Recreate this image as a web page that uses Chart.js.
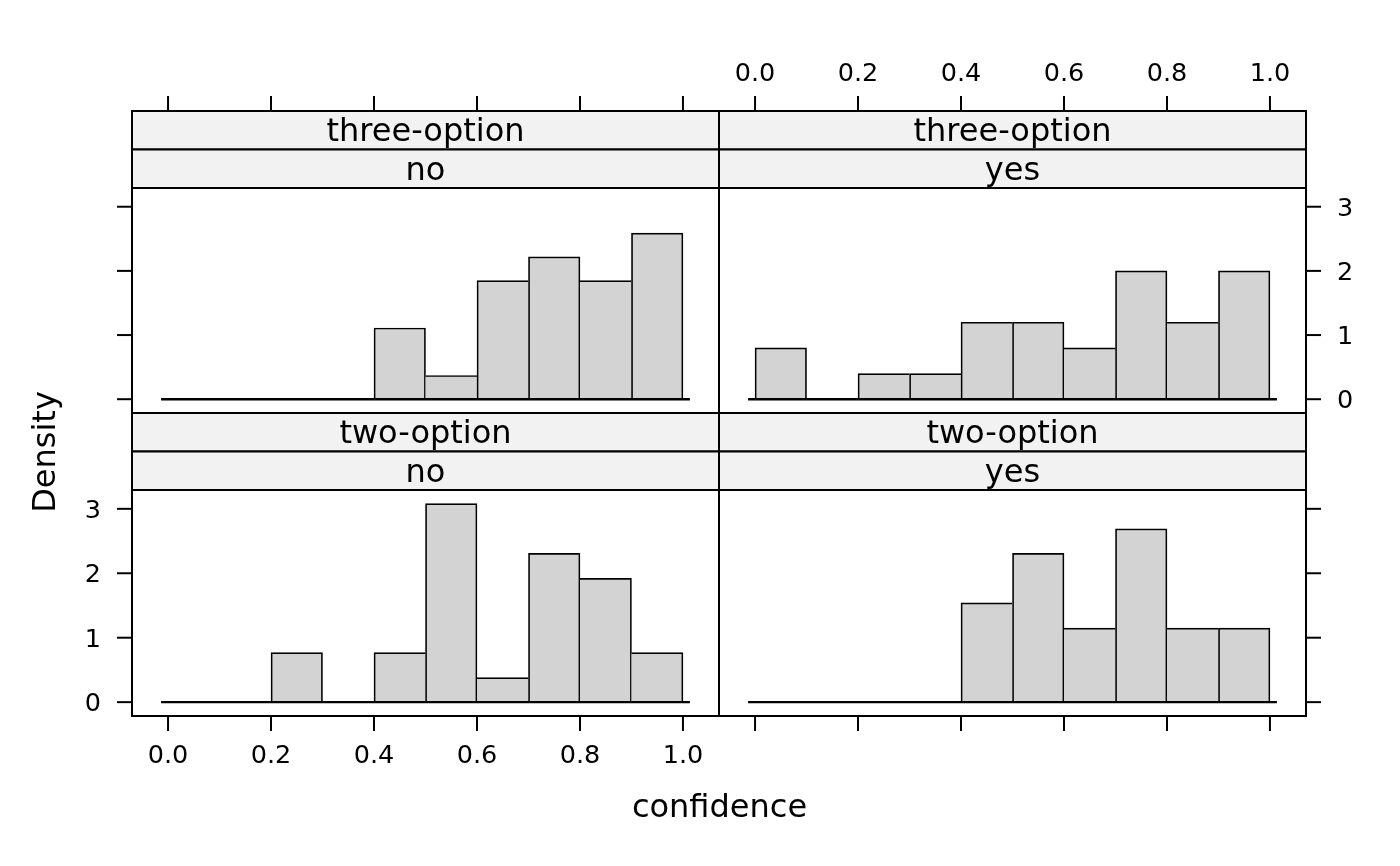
<!DOCTYPE html>
<html>
<head>
<meta charset="utf-8">
<title>confidence histograms</title>
<script src="https://cdn.jsdelivr.net/npm/chart.js@4.4.1/dist/chart.umd.min.js"></script>
<style>
  html, body { margin: 0; background: #fff; }
  #wrap { position: relative; width: 1400px; height: 866px; }
  #wrap canvas { position: absolute; left: 0; top: 0; }
</style>
</head>
<body>
<div id="wrap">
  <canvas id="p0" width="1400" height="866"></canvas>
  <canvas id="p1" width="1400" height="866"></canvas>
  <canvas id="p2" width="1400" height="866"></canvas>
  <canvas id="p3" width="1400" height="866"></canvas>
</div>
<script>
// Histogram bins (centres of the 0.1-wide bins) and densities per panel
const binCenters = [0.05, 0.15, 0.25, 0.35, 0.45, 0.55, 0.65, 0.75, 0.85, 0.95];
const threeOptionNo = [0, 0, 0, 0, 1.11, 0.37, 1.85, 2.22, 1.85, 2.59];
const threeOptionYes = [0.80, 0, 0.40, 0.40, 1.20, 1.20, 0.80, 2.00, 1.20, 2.00];
const twoOptionNo = [0, 0, 0.77, 0, 0.77, 3.08, 0.38, 2.31, 1.92, 0.77];
const twoOptionYes = [0, 0, 0, 0, 1.54, 2.31, 1.15, 2.69, 1.15, 1.15];

// Zero line under the bars
const baselineX = [-0.0135, 1.0135];

// Axis ticks
const xTicks = [0, 0.2, 0.4, 0.6, 0.8, 1.0];
const xTickLabels = ["0.0", "0.2", "0.4", "0.6", "0.8", "1.0"];
const yTicks = [0, 1, 2, 3];
const yTickLabels = ["0", "1", "2", "3"];

const xLabel = "confidence";
const yLabel = "Density";

// Panel geometry (pixels)
const cols = [[132, 719], [719, 1306]];
const rows = [
  { stripTop: 111, plotTop: 188, plotBottom: 413 },
  { stripTop: 413, plotTop: 490, plotBottom: 716 }
];

const panels = [
  { values: threeOptionNo, strips: ["three-option", "no"], col: 0, row: 0,
    xSide: "top", xLab: false, ySide: "left", yLab: false },
  { values: threeOptionYes, strips: ["three-option", "yes"], col: 1, row: 0,
    xSide: "top", xLab: true, ySide: "right", yLab: true },
  { values: twoOptionNo, strips: ["two-option", "no"], col: 0, row: 1,
    xSide: "bottom", xLab: true, ySide: "left", yLab: true, titles: true },
  { values: twoOptionYes, strips: ["two-option", "yes"], col: 1, row: 1,
    xSide: "bottom", xLab: false, ySide: "right", yLab: false }
];

const FONT = '"DejaVu Sans", "Liberation Sans", sans-serif';
const TICK = 15;

// Draws strips, panel box, outside ticks and axis titles
function makeFrame(p) {
  return {
    id: "frame" + p.col + p.row,
    afterDraw(chart) {
      const ctx = chart.ctx;
      const area = chart.chartArea;
      const xs = chart.scales.x;
      const ys = chart.scales.y;
      const r = rows[p.row];
      const stripH = (r.plotTop - r.stripTop) / 2;
      const w = area.right - area.left;

      ctx.save();
      ctx.strokeStyle = "#000";
      ctx.fillStyle = "#000";
      ctx.lineWidth = 2;

      // strips
      ctx.font = "32px " + FONT;
      ctx.textAlign = "center";
      ctx.textBaseline = "alphabetic";
      p.strips.forEach((label, i) => {
        const y0 = r.stripTop + i * stripH;
        ctx.fillStyle = "#f2f2f2";
        ctx.fillRect(area.left, y0, w, stripH);
        ctx.strokeRect(area.left, y0, w, stripH);
        ctx.fillStyle = "#000";
        ctx.fillText(label, (area.left + area.right) / 2, y0 + 30);
      });

      // panel box
      ctx.strokeRect(area.left, r.stripTop, w, r.plotBottom - r.stripTop);

      // x ticks
      ctx.font = "25.5px " + FONT;
      ctx.textAlign = "center";
      xTicks.forEach((v, i) => {
        const px = xs.getPixelForValue(v);
        ctx.beginPath();
        if (p.xSide === "top") {
          ctx.moveTo(px, r.stripTop);
          ctx.lineTo(px, r.stripTop - TICK);
        } else {
          ctx.moveTo(px, area.bottom);
          ctx.lineTo(px, area.bottom + TICK);
        }
        ctx.stroke();
        if (p.xLab) {
          const ty = p.xSide === "top" ? r.stripTop - 30 : area.bottom + 47;
          ctx.fillText(xTickLabels[i], px, ty);
        }
      });

      // y ticks
      ctx.textAlign = p.ySide === "left" ? "right" : "left";
      yTicks.forEach((v, i) => {
        const py = ys.getPixelForValue(v);
        ctx.beginPath();
        if (p.ySide === "left") {
          ctx.moveTo(area.left, py);
          ctx.lineTo(area.left - TICK, py);
        } else {
          ctx.moveTo(area.right, py);
          ctx.lineTo(area.right + TICK, py);
        }
        ctx.stroke();
        if (p.yLab) {
          const tx = p.ySide === "left" ? area.left - 31 : area.right + 31;
          ctx.fillText(yTickLabels[i], tx, py + 9.2);
        }
      });

      // axis titles (once)
      if (p.titles) {
        ctx.font = "32px " + FONT;
        ctx.textAlign = "center";
        ctx.fillText(xLabel, 719.5, 817);
        ctx.save();
        ctx.translate(55, 452);
        ctx.rotate(-Math.PI / 2);
        ctx.fillText(yLabel, 0, 0);
        ctx.restore();
      }
      ctx.restore();
    }
  };
}

// Only draw the side of a bar where it is the taller neighbour
function barBorder(ctx) {
  const vals = ctx.dataset.data.map(d => d.y);
  const i = ctx.dataIndex;
  if (i === undefined) return 1.7;
  const cur = vals[i];
  const prev = i > 0 ? vals[i - 1] : 0;
  const next = i < vals.length - 1 ? vals[i + 1] : 0;
  return {
    top: 1.7,
    bottom: 0,
    left: prev <= cur ? 1.7 : 0,
    right: next < cur ? 1.7 : 0
  };
}

panels.forEach((p, k) => {
  const [x0, x1] = cols[p.col];
  const r = rows[p.row];
  new Chart(document.getElementById("p" + k), {
    type: "bar",
    data: {
      datasets: [
        {
          type: "line",
          data: baselineX.map(x => ({ x: x, y: 0 })),
          borderColor: "#000",
          borderWidth: 2.4,
          pointRadius: 0,
          order: 0
        },
        {
          type: "bar",
          data: binCenters.map((x, i) => ({ x: x, y: p.values[i] })),
          backgroundColor: "#d3d3d3",
          borderColor: "#000",
          borderWidth: barBorder,
          borderSkipped: "start",
          barPercentage: 1,
          categoryPercentage: 1,
          order: 1
        }
      ]
    },
    options: {
      responsive: false,
      animation: false,
      events: [],
      layout: {
        padding: { left: x0, right: 1400 - x1, top: r.plotTop, bottom: 866 - r.plotBottom }
      },
      plugins: { legend: { display: false }, tooltip: { enabled: false } },
      scales: {
        x: { type: "linear", min: -0.07, max: 1.07, offset: false, display: false },
        y: { type: "linear", min: -0.215, max: 3.292, display: false }
      }
    },
    plugins: [makeFrame(p)]
  });
});
</script>
</body>
</html>
